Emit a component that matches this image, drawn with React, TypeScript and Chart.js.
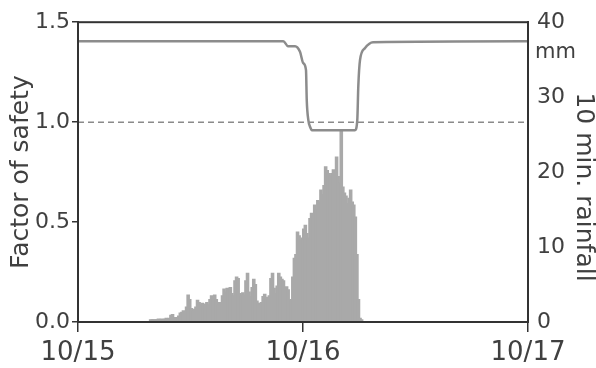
import React, { useEffect, useRef } from "react";
import { Chart, registerables } from "chart.js";

Chart.register(...registerables);

// x axis: hours since 10/15 00:00, labelled by date
const dateLabels = ["10/15", "10/16", "10/17"];

// 10-minute rainfall (mm), starting at interval index 46 (10/15 07:40)
const rainStartInterval = 46;
const rainfall = [
  0.3, 0.3, 0.3, 0.3, 0.3, 0.4, 0.3, 0.4, 0.3, 0.4, 0.5, 0.3, 0.5,
  0.9, 1.0, 0.5, 0.6, 0.5, 0.8, 1.2, 1.3, 1.5, 1.2, 2.0,
  3.6, 3.0, 1.8, 1.5, 1.7, 2.0, 2.9, 2.6, 2.3, 2.5,
  2.2, 2.4, 2.6, 2.3, 3.0, 3.5, 3.4, 3.6, 3.0, 2.3,
  2.6, 2.4, 3.5, 4.4, 4.0, 4.5, 4.3, 4.6, 3.8, 3.5,
  5.5, 6.0, 5.8, 3.8, 3.5, 3.9, 3.6, 5.5, 6.5, 4.0,
  3.4, 4.6, 5.7, 5.0, 2.8, 2.5, 2.3, 2.6, 3.4, 3.7,
  3.3, 3.0, 3.5, 5.8, 6.5, 4.5, 3.8, 4.8, 6.5, 6.0,
  5.7, 5.5, 4.5, 4.7, 4.3, 3.0, 2.9, 6.0, 8.5, 9.0,
  12.0, 11.5, 10.9, 11.2, 12.4, 12.9, 11.8, 11.2, 13.8, 14.5,
  14.0, 15.6, 15.0, 16.2, 16.0, 17.6, 17.0, 18.2, 20.7, 20.2,
  19.8, 19.5, 19.8, 20.3, 19.6, 22.0, 19.4, 18.5, 25.5, 18.0,
  17.2, 16.8, 15.8, 16.5, 17.6, 16.0, 15.6, 14.0, 9.0, 3.0,
  0.5, 0.3,
];

// Factor of safety curve (hours since 10/15 00:00)
const fsHours = [0, 21.9, 22.4, 23.15, 23.68, 24.03, 24.32, 24.4, 24.57, 24.75, 24.96, 29.55, 29.79, 29.9, 30.08, 30.6, 31.47, 48];
const fsValues = [1.405, 1.405, 1.38, 1.38, 1.352, 1.295, 1.26, 1.11, 1.01, 0.977, 0.96, 0.96, 1.01, 1.18, 1.31, 1.37, 1.4, 1.405];

const criticalFS = 1.0;
const fsTicks = [0, 0.5, 1.0, 1.5];
const rainTicks = [0, 10, 20, 30, 40];

const FONT = "'DejaVu Sans', 'Liberation Sans', sans-serif";
const TEXT = "#404040";
const AXIS = "#333333";

const extrasPlugin = {
  id: "extras",
  afterDraw(chart: any) {
    const { ctx, chartArea } = chart;
    ctx.save();
    ctx.strokeStyle = AXIS;
    ctx.lineWidth = 2;
    ctx.strokeRect(chartArea.left, chartArea.top, chartArea.right - chartArea.left, chartArea.bottom - chartArea.top);
    // unit label
    ctx.fillStyle = TEXT;
    ctx.font = `21px ${FONT}`;
    ctx.textAlign = "left";
    ctx.textBaseline = "middle";
    ctx.fillText("mm", chartArea.right + 7, 53);
    // right axis title
    ctx.translate(583, 187);
    ctx.rotate(Math.PI / 2);
    ctx.font = `25px ${FONT}`;
    ctx.textAlign = "center";
    ctx.textBaseline = "middle";
    ctx.fillText("10 min. rainfall", 0, 0);
    ctx.restore();
  },
};

export default function App() {
  const ref = useRef<HTMLCanvasElement | null>(null);
  useEffect(() => {
    document.body.style.margin = "0";
    const canvas = ref.current;
    if (!canvas) return;
    const rainData = rainfall.map((v, k) => ({ x: (rainStartInterval + k + 0.5) / 6, y: v }));
    const fsData = fsHours.map((h, k) => ({ x: h, y: fsValues[k] }));
    const critData = [
      { x: 0, y: criticalFS },
      { x: 48, y: criticalFS },
    ];
    const chart = new Chart(canvas, {
      type: "bar",
      data: {
        datasets: [
          {
            type: "bar",
            data: rainData as any,
            yAxisID: "yR",
            backgroundColor: "#a9a9a9",
            borderWidth: 0,
            barThickness: 2.6,
            inflateAmount: 0.5,
            order: 3,
          },
          {
            type: "line",
            data: critData as any,
            yAxisID: "y",
            borderColor: "#8a8a8a",
            borderWidth: 1.5,
            borderDash: [6, 4],
            pointRadius: 0,
            order: 2,
          },
          {
            type: "line",
            data: fsData as any,
            yAxisID: "y",
            borderColor: "#8c8c8c",
            borderWidth: 2.5,
            pointRadius: 0,
            cubicInterpolationMode: "monotone",
            order: 1,
          },
        ],
      },
      options: {
        animation: false,
        responsive: true,
        maintainAspectRatio: false,
        layout: { padding: { top: 22, left: 0, right: 0, bottom: 0 } },
        plugins: { legend: { display: false }, tooltip: { enabled: false } },
        scales: {
          x: {
            type: "linear",
            position: "bottom",
            min: 0,
            max: 48,
            offset: false,
            afterFit: (s: any) => {
              s.height = 46;
            },
            afterBuildTicks: (s: any) => {
              s.ticks = dateLabels.map((_, i) => ({ value: i * 24 }));
            },
            ticks: {
              callback: (v: any) => dateLabels[Math.round(Number(v) / 24)] ?? "",
              font: { family: FONT, size: 26 },
              color: TEXT,
              padding: 6,
              maxRotation: 0,
              autoSkip: false,
            },
            grid: { drawOnChartArea: false, offset: false, tickLength: 10, color: AXIS, lineWidth: 1.5 },
            border: { color: AXIS, width: 2 },
          },
          y: {
            position: "left",
            min: 0,
            max: 1.5,
            afterFit: (s: any) => {
              s.width = 78;
            },
            afterBuildTicks: (s: any) => {
              s.ticks = fsTicks.map((v) => ({ value: v }));
            },
            ticks: {
              callback: (v: any) => Number(v).toFixed(1),
              font: { family: FONT, size: 22 },
              color: TEXT,
              padding: 2,
            },
            grid: { drawOnChartArea: false, tickLength: 6, color: AXIS, lineWidth: 1.5 },
            border: { color: AXIS, width: 2 },
            title: {
              display: true,
              text: "Factor of safety",
              font: { family: FONT, size: 25 },
              color: TEXT,
              padding: { top: 6, bottom: 0 },
            },
          },
          yR: {
            position: "right",
            min: 0,
            max: 40,
            afterFit: (s: any) => {
              s.width = 68;
            },
            afterBuildTicks: (s: any) => {
              s.ticks = rainTicks.map((v) => ({ value: v }));
            },
            ticks: {
              callback: (v: any) => String(v),
              font: { family: FONT, size: 22 },
              color: TEXT,
              padding: 9,
            },
            grid: { drawOnChartArea: false, drawTicks: false },
            border: { color: AXIS, width: 2 },
          },
        },
      },
      plugins: [extrasPlugin],
    });
    return () => chart.destroy();
  }, []);
  return (
    <div style={{ width: 596, height: 368, position: "relative" }}>
      <canvas ref={ref} />
    </div>
  );
}
